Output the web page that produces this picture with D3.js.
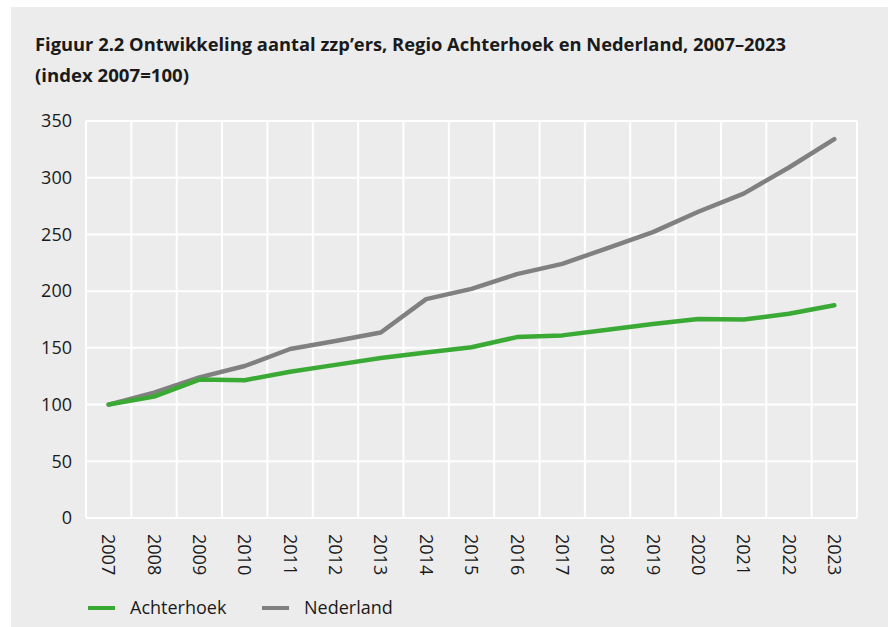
<!DOCTYPE html>
<html>
<head>
<meta charset="utf-8">
<script src="https://cdn.jsdelivr.net/npm/d3@7"></script>
<style>
  body { margin: 0; background: #fff; }
  svg { display: block; }
  text { font-family: "Open Sans", "Noto Sans", sans-serif; fill: #1a1a1a; }
</style>
</head>
<body>
<svg id="chart"></svg>
<script>
const years = ["2007", "2008", "2009", "2010", "2011", "2012", "2013", "2014", "2015",
  "2016", "2017", "2018", "2019", "2020", "2021", "2022", "2023"];
const achterhoek = [100, 107, 122, 121.5, 129, 135, 141, 146, 150.5, 159.5, 161, 166, 171, 175.5, 175, 180, 187.5];
const nederland = [100, 110.5, 124, 134, 149, 156, 163.5, 193, 202, 215, 224, 238, 252, 270, 286, 309, 334];
const yTicks = [0, 50, 100, 150, 200, 250, 300, 350];
const seriesNames = ["Achterhoek", "Nederland"];
const seriesColors = ["#3aaa35", "#808080"];

const width = 888;
const height = 627;

const svg = d3.select("#chart")
  .attr("width", width)
  .attr("height", height);

// grey panel
svg.append("rect")
  .attr("x", 11).attr("y", 7)
  .attr("width", width - 11).attr("height", height - 7)
  .attr("fill", "#ececec");

// title
svg.append("text")
  .attr("x", 35).attr("y", 51)
  .attr("font-size", 17).attr("font-weight", 700)
  .attr("textLength", 751).attr("lengthAdjust", "spacingAndGlyphs")
  .text("Figuur 2.2 Ontwikkeling aantal zzp’ers, Regio Achterhoek en Nederland, 2007–2023");
svg.append("text")
  .attr("x", 35).attr("y", 82)
  .attr("font-size", 17).attr("font-weight", 700)
  .attr("textLength", 154).attr("lengthAdjust", "spacingAndGlyphs")
  .text("(index 2007=100)");

const x = d3.scaleBand()
  .domain(years)
  .range([86, 857]);

const y = d3.scaleLinear()
  .domain([0, 350])
  .range([518, 121]);

// horizontal grid
svg.append("g")
  .selectAll("line")
  .data(yTicks)
  .join("line")
  .attr("x1", x.range()[0]).attr("x2", x.range()[1])
  .attr("y1", d => y(d)).attr("y2", d => y(d))
  .attr("stroke", "#fff").attr("stroke-width", 2);

// vertical grid at band edges
const edges = years.map(d => x(d)).concat([x.range()[1]]);
svg.append("g")
  .selectAll("line")
  .data(edges)
  .join("line")
  .attr("x1", d => d).attr("x2", d => d)
  .attr("y1", y(350)).attr("y2", y(0))
  .attr("stroke", "#fff").attr("stroke-width", 2);

// y axis labels
const yAxis = svg.append("g")
  .attr("transform", `translate(${x.range()[0]},0)`)
  .call(d3.axisLeft(y).tickValues(yTicks).tickSize(0).tickPadding(14));
yAxis.select(".domain").remove();
yAxis.selectAll("text")
  .attr("font-size", 18)
  .style("font-family", "'Open Sans', 'Noto Sans', sans-serif")
  .attr("fill", "#1a1a1a");

// x axis labels, rotated
const xAxis = svg.append("g")
  .attr("transform", `translate(0,${y(0)})`)
  .call(d3.axisBottom(x).tickSize(0).tickPadding(0));
xAxis.select(".domain").remove();
xAxis.selectAll("text")
  .attr("font-size", 18)
  .style("font-family", "'Open Sans', 'Noto Sans', sans-serif")
  .attr("fill", "#1a1a1a")
  .attr("text-anchor", "start")
  .attr("transform", "rotate(90)")
  .attr("x", 16)
  .attr("y", 0)
  .attr("dy", "0.35em");

const line = d3.line()
  .x((d, i) => x(years[i]) + x.bandwidth() / 2)
  .y(d => y(d));

const series = [nederland, achterhoek];
const seriesCol = [seriesColors[1], seriesColors[0]];
svg.append("g")
  .selectAll("path")
  .data(series)
  .join("path")
  .attr("d", line)
  .attr("fill", "none")
  .attr("stroke", (d, i) => seriesCol[i])
  .attr("stroke-width", 4.5)
  .attr("stroke-linejoin", "round")
  .attr("stroke-linecap", "round");

// legend
const legendX = [88, 262];
const legend = svg.append("g")
  .selectAll("g")
  .data(seriesNames)
  .join("g")
  .attr("transform", (d, i) => `translate(${legendX[i]},608)`);
legend.append("line")
  .attr("x1", 0).attr("x2", 27)
  .attr("stroke", (d, i) => seriesColors[i])
  .attr("stroke-width", 4);
legend.append("text")
  .attr("x", 42).attr("dy", "0.35em")
  .attr("font-size", 18)
  .text(d => d);
</script>
</body>
</html>
